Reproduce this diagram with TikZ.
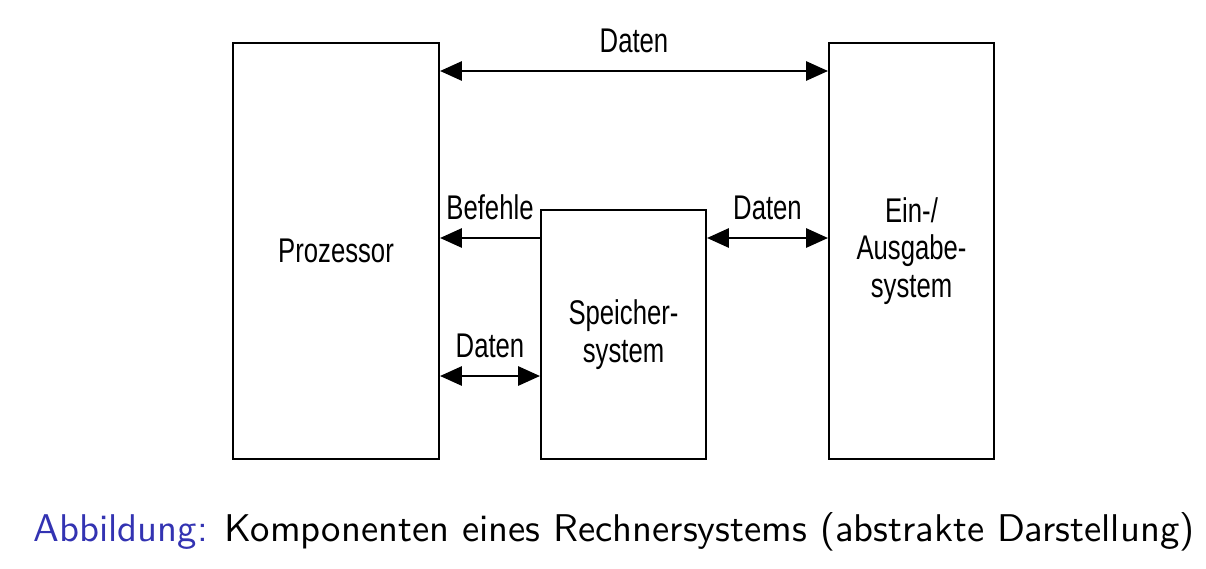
\documentclass[tikz,border=0pt]{standalone}
\usepackage{fontspec}
\usepackage{tikz}
\usetikzlibrary{arrows.meta}
\newfontfamily\narrowarial[FakeStretch=0.75]{Liberation Sans}
\newfontfamily\capfont{lmsans10-regular.otf}
\definecolor{structblue}{rgb}{0.2,0.2,0.7}
\tikzset{%
  >={Triangle[width=3.8mm,length=4.4mm]},
  % Specifications for style of nodes:
         unitbox/.style = {rectangle, draw=black, line width=1.1pt,
                           align=center, inner sep=0pt,
                           font=\narrowarial\fontsize{19.5}{21.5}\selectfont},
         flowtag/.style = {above, inner sep=0pt, yshift=0.34cm,
                           font=\narrowarial\fontsize{19.5}{21.5}\selectfont},
        flowline/.style = {line width=1.7pt},
}
\begin{document}
\begin{tikzpicture}[x=0.02cm, y=-0.02cm]
  \useasboundingbox (0,0) rectangle (1206,568);
  % Specification of nodes (position, etc.)
  \node (proc)  [unitbox, minimum width=4.12cm, minimum height=8.32cm]
                 at (336,251)   {Prozessor};
  \node (mem)   [unitbox, minimum width=3.3cm, minimum height=4.98cm]
                 at (623.5,334.5) {Speicher-\\system};
  \node (io)    [unitbox, minimum width=3.3cm, minimum height=8.32cm]
                 at (911.5,251) {Ein-/\\Ausgabe-\\system};
  % heights of the three connector levels
  \coordinate (busTop) at (628,71);
  \coordinate (busMid) at (628,238);
  \coordinate (busLow) at (628,376);
  % Specification of lines between nodes specified above
  \draw[flowline, <->] (proc.east |- busTop) -- node[flowtag] {Daten}
                       (io.west |- busTop);
  \draw[flowline, ->]  (mem.west |- busMid) -- node[flowtag] {Befehle}
                       (proc.east |- busMid);
  \draw[flowline, <->] (mem.east |- busMid) -- node[flowtag] {Daten}
                       (io.west |- busMid);
  \draw[flowline, <->] (proc.east |- busLow) -- node[flowtag] {Daten}
                       (mem.west |- busLow);
  % Caption below the picture
  \node (caption) [anchor=base, font=\capfont\fontsize{22}{26}\selectfont]
                 at (614,541) {\textcolor{structblue}{Abbildung:}
                 Komponenten eines Rechnersystems (abstrakte Darstellung)};
\end{tikzpicture}
\end{document}
